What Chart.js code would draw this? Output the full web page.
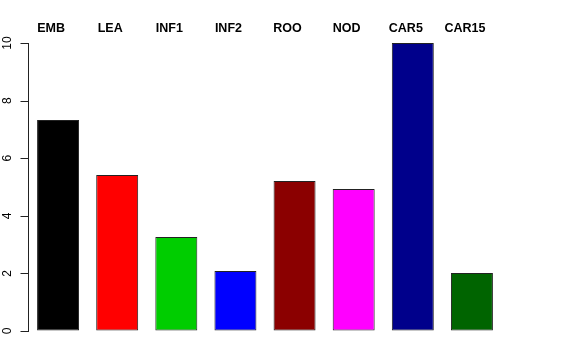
<!DOCTYPE html>
<html>
<head>
<meta charset="utf-8">
<script src="https://cdn.jsdelivr.net/npm/chart.js@4"></script>
<style>
  html, body { margin: 0; padding: 0; background: #fff; }
  #wrap { width: 576px; height: 360px; }
</style>
</head>
<body>
<div id="wrap"><canvas id="grafico"></canvas></div>
<script>
const categorias = ['EMB', 'LEA', 'INF1', 'INF2', 'ROO', 'NOD', 'CAR5', 'CAR15'];
const valores = [7.33, 5.42, 3.26, 2.08, 5.21, 4.93, 10.0, 2.01];
const colores = ['#000000', '#FF0000', '#00CD00', '#0000FF', '#8B0000', '#FF00FF', '#00008B', '#006400'];
const ticksY = [0, 2, 4, 6, 8, 10];

// marcas y etiquetas del eje y giradas como en R
const etiquetasY = {
    id: 'etiquetasY',
    afterDraw(chart) {
        const ctx = chart.ctx;
        const y = chart.scales.y;
        const x0 = Math.floor(chart.chartArea.left) + 0.5;
        ctx.save();
        ctx.strokeStyle = '#222';
        ctx.lineWidth = 1;
        ctx.fillStyle = '#000';
        ctx.font = '12px "Liberation Sans", Arial, sans-serif';
        ctx.textAlign = 'center';
        ctx.textBaseline = 'alphabetic';
        ticksY.forEach(t => {
            const py = Math.round(y.getPixelForValue(t)) + 0.5;
            ctx.beginPath();
            ctx.moveTo(x0 - 8, py);
            ctx.lineTo(x0, py);
            ctx.stroke();
            ctx.save();
            ctx.translate(11, y.getPixelForValue(t));
            ctx.rotate(-Math.PI / 2);
            ctx.fillText(String(t), 0, 0);
            ctx.restore();
        });
        ctx.restore();
    }
};

new Chart(document.getElementById('grafico'), {
    type: 'bar',
    data: {
        labels: categorias,
        datasets: [{
            data: valores,
            backgroundColor: colores,
            borderColor: '#222',
            borderWidth: 1,
            borderSkipped: false,
            barPercentage: 0.71,
            categoryPercentage: 1
        }]
    },
    options: {
        responsive: true,
        maintainAspectRatio: false,
        animation: false,
        layout: { padding: { top: 0, right: 74.5, bottom: 29, left: 0 } },
        plugins: { legend: { display: false }, tooltip: { enabled: false } },
        scales: {
            x: {
                position: 'top',
                grid: { display: false, drawTicks: false },
                border: { display: false },
                ticks: {
                    color: '#000',
                    padding: 7,
                    labelOffset: -7,
                    maxRotation: 0,
                    autoSkip: false,
                    font: { family: '"Liberation Sans", Arial, sans-serif', size: 12.5, weight: 'bold' }
                },
                afterFit: s => { s.height = 43; }
            },
            y: {
                min: 0,
                max: 10,
                afterBuildTicks: s => { s.ticks = ticksY.map(v => ({ value: v })); },
                grid: { drawOnChartArea: false, drawTicks: false },
                border: { color: '#222' },
                ticks: { callback: () => '', padding: 0 },
                afterFit: s => { s.width = 28.5; }
            }
        }
    },
    plugins: [etiquetasY]
});
</script>
</body>
</html>
